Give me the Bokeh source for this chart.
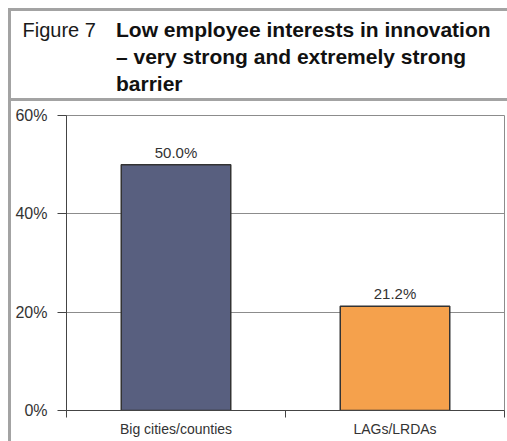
from bokeh.plotting import figure
from bokeh.models import Range1d, FixedTicker, PrintfTickFormatter, ColumnDataSource, Div
from bokeh.layouts import column, row
from bokeh.core.properties import value
from bokeh.embed import file_html
from bokeh.resources import INLINE

categories = ["Big cities/counties", "LAGs/LRDAs"]
values = [50.0, 21.2]
colors = ["#585f7f", "#f5a14c"]
y_ticks = [0, 20, 40, 60]
fig_label = "Figure 7"
title_lines = ["Low employee interests in innovation",
               "\u2013 very strong and extremely strong",
               "barrier"]

TOTAL_W, TOTAL_H = 507, 441
HEAD_H = 101
FONT = "Liberation Sans"
GRAY = "#a3a3a3"

# ---------- header (title box) ----------
parts = ['<div style="position:relative;width:%dpx;height:%dpx;overflow:hidden;background:white;">' % (TOTAL_W, HEAD_H)]
parts.append('<div style="position:absolute;left:8px;top:8px;width:%dpx;height:3px;background:%s"></div>' % (TOTAL_W - 8, GRAY))
parts.append('<div style="position:absolute;left:8px;top:8px;width:3px;height:%dpx;background:%s"></div>' % (HEAD_H - 8, GRAY))
parts.append('<div style="position:absolute;left:11px;top:98px;width:%dpx;height:3px;background:%s"></div>' % (TOTAL_W - 11, GRAY))
parts.append('<div style="position:absolute;left:22.5px;top:19.8px;white-space:nowrap;'
             'font-family:\'%s\';font-size:20px;line-height:20px;color:#1a1a1a;">%s</div>' % (FONT, fig_label))
for i, line in enumerate(title_lines):
    parts.append('<div style="position:absolute;left:116px;top:%.1fpx;white-space:nowrap;'
                 'font-family:\'%s\';font-size:21px;line-height:21px;font-weight:bold;color:#111111;">%s</div>'
                 % (18.9 + 27.2 * i, FONT, line))
parts.append('</div>')
header = Div(text="".join(parts), width=TOTAL_W, height=HEAD_H, margin=0)

# ---------- chart ----------
FIG_W = TOTAL_W - 11
FIG_H = TOTAL_H - HEAD_H
ML, MR, MT, MB = 55, 3, 14, 31

xs = [i + 0.5 for i in range(len(categories))]
src = ColumnDataSource(dict(x=xs, top=values, color=colors,
                            lbl=["%.1f%%" % v for v in values]))

p = figure(width=FIG_W, height=FIG_H, output_backend="svg", toolbar_location=None,
           x_range=Range1d(0, len(categories)), y_range=Range1d(0, 60),
           min_border_left=ML, min_border_right=MR, min_border_top=MT, min_border_bottom=MB,
           background_fill_color="white", border_fill_color="white", margin=0)
p.outline_line_color = "#8c8c8c"
p.outline_line_width = 1

p.vbar(x="x", top="top", width=0.5, bottom=0, fill_color="color",
       line_color="#333333", line_width=1.5, source=src)
p.text(x="x", y="top", text="lbl", source=src, text_align="center",
       text_baseline="bottom", y_offset=-4, text_font=value(FONT),
       text_font_size="15px", text_color="#333333")

ya = p.yaxis[0]
ya.ticker = FixedTicker(ticks=y_ticks)
ya.formatter = PrintfTickFormatter(format="%d%%")
ya.major_tick_in = 0
ya.major_tick_out = 9
ya.minor_tick_line_color = None
ya.axis_line_color = "#444444"
ya.major_tick_line_color = "#444444"
ya.major_label_text_font = FONT
ya.major_label_text_font_size = "16px"
ya.major_label_text_color = "#333333"
ya.major_label_standoff = 10

xa = p.xaxis[0]
xa.ticker = FixedTicker(ticks=xs, minor_ticks=list(range(len(categories) + 1)))
xa.major_label_overrides = {x: c for x, c in zip(xs, categories)}
xa.major_tick_in = 0
xa.major_tick_out = 0
xa.minor_tick_in = 0
xa.minor_tick_out = 7
xa.minor_tick_line_color = "#444444"
xa.axis_line_color = "#444444"
xa.major_label_text_font = FONT
xa.major_label_text_font_size = "14px"
xa.major_label_text_color = "#333333"
xa.major_label_standoff = 3

p.xgrid.grid_line_color = None
p.ygrid.ticker = FixedTicker(ticks=y_ticks)
p.ygrid.grid_line_color = "#8c8c8c"
p.ygrid.grid_line_width = 1

left_pad = Div(text="", width=8, height=FIG_H, margin=0)
left_bar = Div(text="", width=3, height=FIG_H, margin=0, styles={"background-color": GRAY})

layout = column(header, row(left_pad, left_bar, p, spacing=0, margin=0), spacing=0, margin=0)

open("out.html", "w").write(file_html(layout, INLINE))
